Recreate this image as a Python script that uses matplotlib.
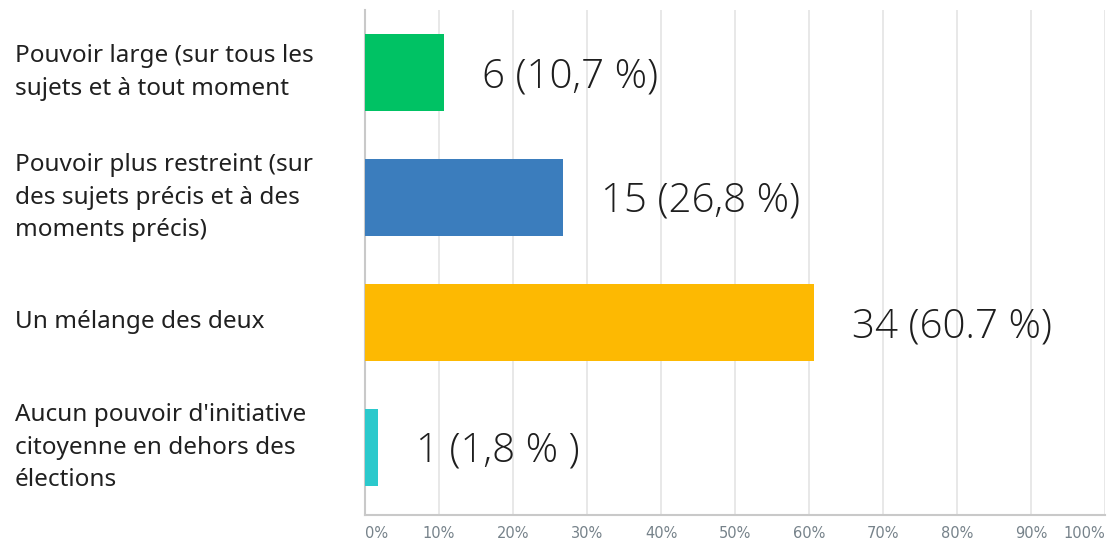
import numpy as np
import matplotlib.pyplot as plt
from matplotlib.transforms import offset_copy

categories = [
    "Pouvoir large (sur tous les\nsujets et à tout moment",
    "Pouvoir plus restreint (sur\ndes sujets précis et à des\nmoments précis)",
    "Un mélange des deux",
    "Aucun pouvoir d'initiative\ncitoyenne en dehors des\nélections",
]
counts = [6, 15, 34, 1]
percents = [10.7, 26.8, 60.7, 1.8]
value_labels = ["6 (10,7 %)", "15 (26,8 %)", "34 (60.7 %)", "1 (1,8 % )"]
tick_values = [0, 10, 20, 30, 40, 50, 60, 70, 80, 90, 100]
tick_labels = ["0%", "10%", "20%", "30%", "40%", "50%", "60%", "70%", "80%", "90%", "100%"]

colors = ["#00c264", "#3b7dbd", "#fdb902", "#2bc9cc"]

fig = plt.figure(figsize=(11.09, 5.48), dpi=100)
ax = fig.add_axes([365 / 1109, 33 / 548, 740 / 1109, 505 / 548])

ypos = np.arange(len(categories))
ax.barh(ypos, percents, height=0.62, color=colors, zorder=3)

ax.set_xlim(0, 100)
ax.set_ylim(3.54, -0.5)

# grid
for t in tick_values[1:]:
    ax.axvline(t, color="#e4e4e4", lw=1.2, zorder=1)

for s in ["top", "right"]:
    ax.spines[s].set_visible(False)
ax.spines["left"].set_color("#c9c9c9")
ax.spines["bottom"].set_color("#c9c9c9")
ax.spines["left"].set_linewidth(1.5)
ax.spines["bottom"].set_linewidth(1.5)

ax.set_yticks([])
ax.set_xticks([])

# x tick labels
for t, lab in zip(tick_values, tick_labels):
    ha = "center"
    if t == 0:
        ha = "left"
    elif t == 100:
        ha = "right"
    ax.text(t, -0.036, lab, transform=ax.get_xaxis_transform(), ha=ha, va="center",
            fontsize=10.5, color="#76828a", family="DejaVu Sans")

# category labels on the left
ylab = ax.get_yaxis_transform()
for y, lab in zip(ypos, categories):
    ax.text(-350 / 740, y, lab, transform=ylab, ha="left", va="center",
            fontsize=17.5, linespacing=1.45, color="#202020", family="Noto Sans")

# value labels
for y, p, lab in zip(ypos, percents, value_labels):
    tr = offset_copy(ax.transData, fig=fig, x=38, y=-4, units="dots")
    ax.text(p, y, lab, transform=tr, ha="left", va="center",
            fontsize=29, color="#1e1e1e", family="Open Sans", fontweight="light")

fig.savefig("out.png", dpi=100)
